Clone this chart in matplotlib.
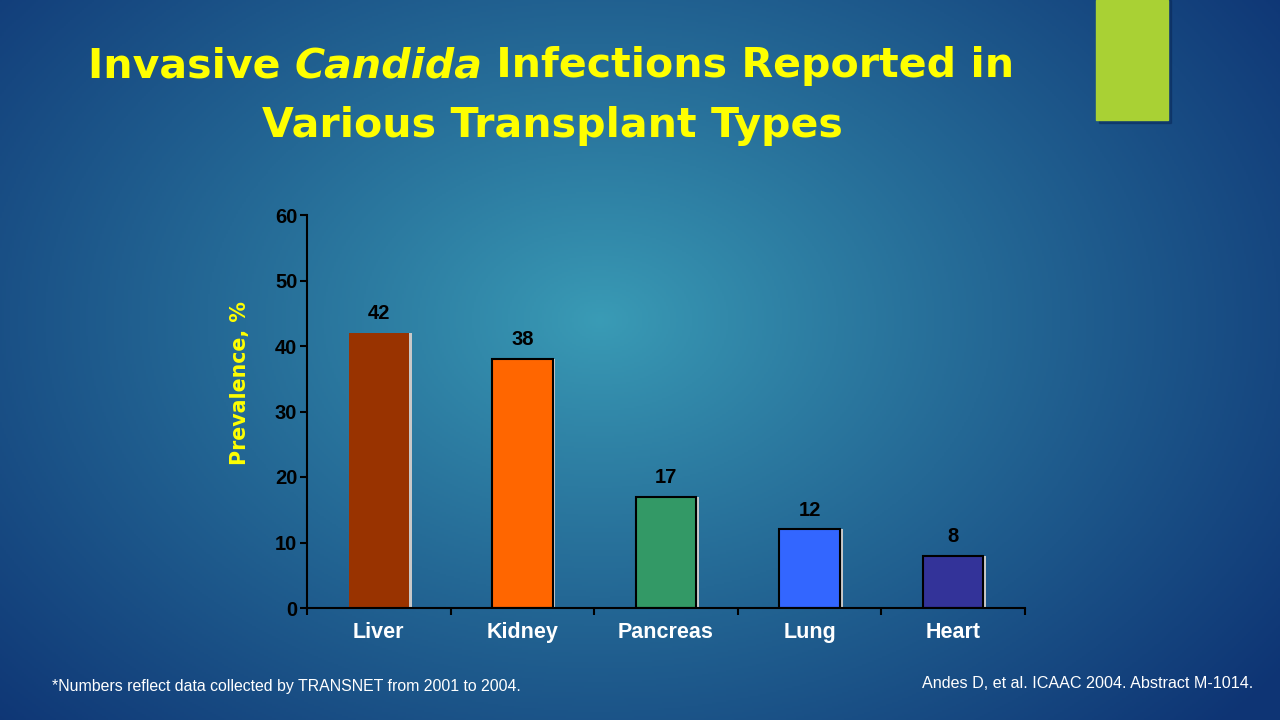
import numpy as np
import matplotlib
matplotlib.use('Agg')
from matplotlib import pyplot as plt
from matplotlib.patches import Rectangle

# Datos
organos = ['Liver', 'Kidney', 'Pancreas', 'Lung', 'Heart']
prevalencia = [42, 38, 17, 12, 8]
colores = ['#993300', '#ff6600', '#339966', '#3366ff', '#333399']
bordes = ['none', 'black', 'black', 'black', 'black']
ticks_y = [0, 10, 20, 30, 40, 50, 60]

fig = plt.figure(figsize=(12.8, 7.2), dpi=100)

# Fondo con degradado radial
fondo = fig.add_axes([0, 0, 1, 1], zorder=-10)
xx, yy = np.meshgrid(np.linspace(0, 1280, 640), np.linspace(0, 720, 360))
r = np.sqrt(((xx - 600) / 850) ** 2 + ((yy - 320) / 600) ** 2)
r = np.clip(r, 0, 1) ** 0.9
c0 = np.array([0x3a, 0x9c, 0xb6]) / 255
c1 = np.array([0x0e, 0x34, 0x74]) / 255
img = c0[None, None, :] * (1 - r[..., None]) + c1[None, None, :] * r[..., None]
fondo.imshow(img, extent=[0, 1280, 720, 0], aspect='auto')
fondo.set_xlim(0, 1280)
fondo.set_ylim(720, 0)
fondo.axis('off')

# Rectangulo verde decorativo
fondo.add_patch(Rectangle((1099, 0), 72, 123, color='#0a2a5a', alpha=0.5))
fondo.add_patch(Rectangle((1096, 0), 72, 120, color='#a9d134'))

# Titulo con "Candida" en cursiva
renderer = fig.canvas.get_renderer()
tam = 29.6
partes = [('Invasive ', 'normal'), ('Candida', 'italic'), (' Infections Reported in', 'normal')]
anchos = []
for txt, estilo in partes:
    t = fondo.text(0, 0, txt, fontsize=tam, fontweight='bold', style=estilo)
    bb = t.get_window_extent(renderer)
    anchos.append(bb.width)
    t.remove()
x = 551 - sum(anchos) / 2
for (txt, estilo), w in zip(partes, anchos):
    fondo.text(x, 66, txt, fontsize=tam, fontweight='bold', style=estilo,
               color='#ffff00', va='center', ha='left')
    x += w
fondo.text(552, 126, 'Various Transplant Types', fontsize=tam, fontweight='bold',
           color='#ffff00', va='center', ha='center')

# Notas al pie
fondo.text(52, 687, '*Numbers reflect data collected by TRANSNET from 2001 to 2004.',
           fontsize=11.4, family='Liberation Sans', color='white', va='center')
fondo.text(1253, 684, 'Andes D, et al. ICAAC 2004. Abstract M-1014.',
           fontsize=11.6, family='Liberation Sans', color='white', va='center', ha='right')

# Etiqueta del eje y
fondo.text(240, 383, 'Prevalence, %', fontsize=14.8, fontweight='bold', color='#ffff00',
           rotation=90, ha='center', va='center')

# Grafico de barras
ax = fig.add_axes([307 / 1280, 1 - 608 / 720, 718 / 1280, 393 / 720])
ax.patch.set_alpha(0)
pos = np.arange(len(organos))
ax.bar(pos + 0.02, prevalencia, width=0.42, color='#c8c8c8', zorder=1)
ax.bar(pos, prevalencia, width=0.42, color=colores, edgecolor=bordes,
       linewidth=1.5, zorder=2)
for p, v in zip(pos, prevalencia):
    ax.text(p, v + 1.5, str(v), ha='center', va='bottom', fontsize=14.5,
            fontweight='bold', family='Liberation Sans', color='black')

ax.set_xlim(-0.5, len(organos) - 0.5)
ax.set_ylim(0, 60)
ax.set_yticks(ticks_y)
ax.set_yticklabels([str(t) for t in ticks_y], fontsize=14.5, fontweight='bold',
                   family='Liberation Sans', color='black')
ax.set_xticks(np.arange(len(organos) + 1) - 0.5)
ax.set_xticklabels([])
ax.set_xticks(pos, minor=True)
ax.set_xticklabels(organos, minor=True, fontsize=15.5, fontweight='bold',
                   family='Liberation Sans', color='white')
ax.tick_params(axis='x', which='minor', length=0, pad=10)
ax.tick_params(axis='x', which='major', length=5, width=1.5, direction='out', color='black')
ax.tick_params(axis='y', length=5, width=1.5, direction='out', color='black', pad=2)
for lado in ['top', 'right']:
    ax.spines[lado].set_visible(False)
for lado in ['left', 'bottom']:
    ax.spines[lado].set_color('black')
    ax.spines[lado].set_linewidth(1.5)

fig.savefig('out.png', dpi=100)
